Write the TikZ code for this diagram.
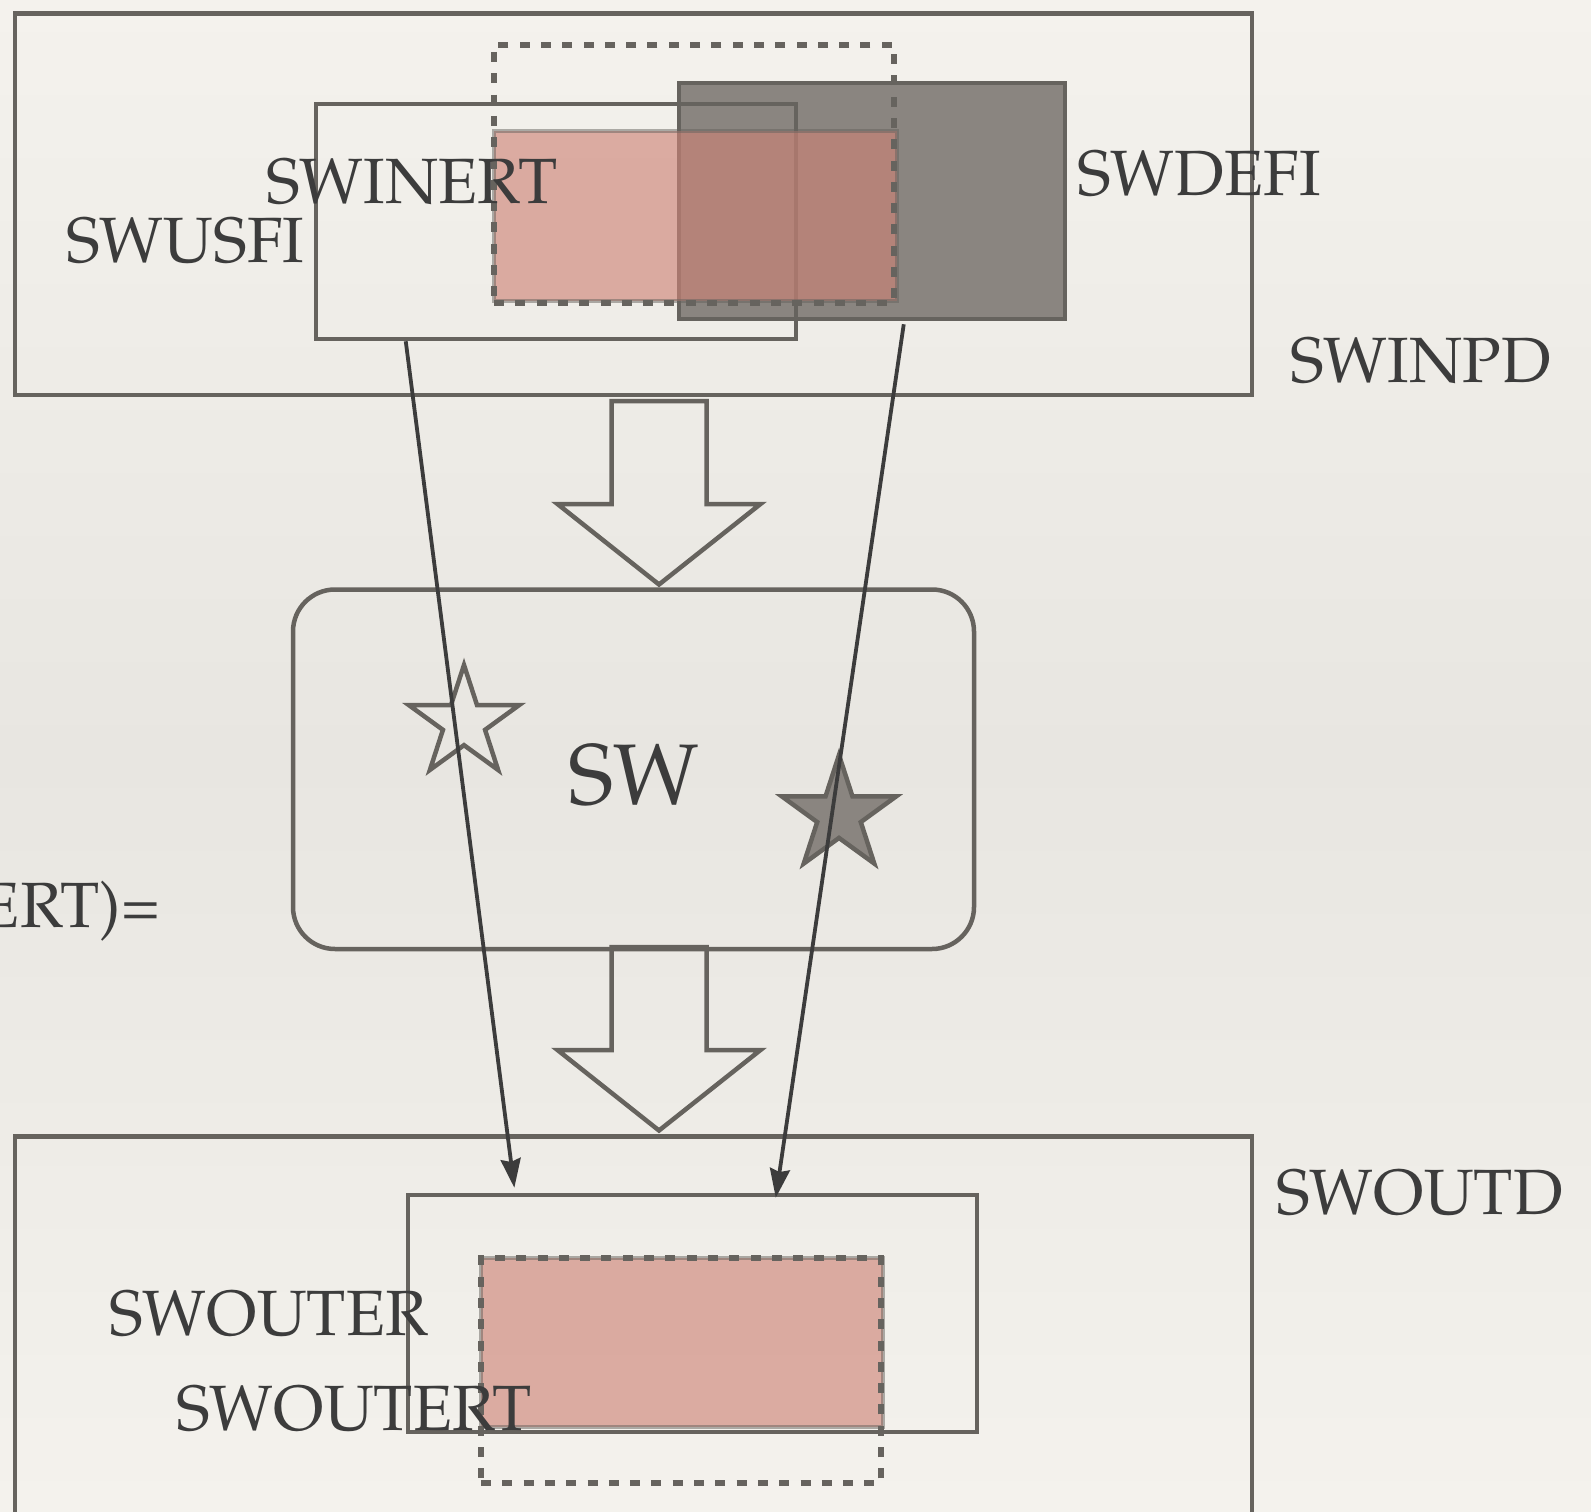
\documentclass[tikz,border=0pt]{standalone}
\usepackage[T1]{fontenc}
\renewcommand{\rmdefault}{ppl}
\usetikzlibrary{shapes.geometric,arrows.meta,calc}

\definecolor{paperA}{HTML}{F4F2ED}
\definecolor{paperB}{HTML}{E8E6E1}
\definecolor{edge}{HTML}{66635E}
\definecolor{ink}{HTML}{3C3C3C}
\definecolor{slate}{HTML}{8A8580}
\definecolor{rose}{HTML}{CE8376}

\tikzset{
  panel/.style={rectangle, draw=edge, line width=4.5pt, inner sep=0pt},
  greybox/.style={panel, fill=slate},
  rosebox/.style={rectangle, inner sep=0pt, fill=rose, fill opacity=0.63,
                  draw=edge, draw opacity=0.5, line width=4.5pt},
  dashbox/.style={rectangle, inner sep=0pt, draw=edge, line width=5.5pt,
                  dash pattern=on 10pt off 11.3pt},
  roundpanel/.style={panel, rounded corners=42pt},
  lbl/.style={text=ink, inner sep=0pt, font=\fontsize{64}{70}\selectfont},
  biglbl/.style={text=ink, inner sep=0pt, font=\fontsize{86}{94}\selectfont},
  starshape/.style={star, star points=5, star point ratio=2.618, inner sep=0pt,
                    draw=edge, line width=4.5pt},
  conn/.style={draw=ink, line width=3.8pt,
               -{Stealth[length=29pt, width=20pt, inset=3pt]}},
  blockdown/.pic={
    \draw[edge, line width=4.5pt, line join=miter]
      (-47.5,0) -- (-47.5,103) -- (-101.5,103) -- (0,183.5)
      -- (101.5,103) -- (47.5,103) -- (47.5,0) -- cycle;
  }
}

\begin{document}
\begin{tikzpicture}[x=1pt, y=-1pt]
  % paper
  \shade[top color=paperA, bottom color=paperA, middle color=paperB]
    (0,0) rectangle (1591,1512);
  \useasboundingbox (0,0) rectangle (1591,1512);

  % input domain
  \node[panel, minimum width=1237pt, minimum height=381.5pt] (inpd) at (633.5,204.25) {};
  \node[greybox, minimum width=386pt, minimum height=236pt] (defi) at (872,201) {};
  \node[panel, minimum width=480pt, minimum height=235pt] (usfi) at (556,221.5) {};
  \node[rosebox, minimum width=403pt, minimum height=170pt] (inert) at (695.5,216) {};
  \node[dashbox, minimum width=400pt, minimum height=258pt] (inext) at (694,174) {};

  % software block
  \node[roundpanel, minimum width=681pt, minimum height=359.5pt] (sw) at (633.5,769.25) {};
  \node[starshape, minimum size=116pt] (st1) at (464,723) {};
  \node[starshape, fill=slate, minimum size=120pt] (st2) at (839,815) {};

  % output domain
  \node[panel, minimum width=1237pt, minimum height=423pt] (outd) at (633.5,1348) {};
  \node[panel, minimum width=569pt, minimum height=237pt] (outer) at (692.5,1313.5) {};
  \node[rosebox, minimum width=402pt, minimum height=169pt] (outert) at (682,1342.5) {};
  \node[dashbox, minimum width=400pt, minimum height=225pt] (outext) at (681,1370.5) {};

  % flow arrows
  \pic at (659,401) {blockdown};
  \pic at (659,947) {blockdown};

  % labels
  \node[lbl, anchor=base west] (tinert) at (266,203) {SWINERT};
  \node[lbl, anchor=base west] (tusfi) at (66,262) {SWUSFI};
  \node[lbl, anchor=base west] (tdefi) at (1077,195) {SWDEFI};
  \node[lbl, anchor=base west] (tinpd) at (1290,382) {SWINPD};
  \node[biglbl, anchor=base west] (tsw) at (568,804) {SW};
  \node[lbl, anchor=base east] (teq) at (160,927) {ERT)=};
  \node[lbl, anchor=base west] (toutd) at (1276,1214) {SWOUTD};
  \node[lbl, anchor=base west] (touter) at (109,1335) {SWOUTER};
  \node[lbl, anchor=base west] (toutert) at (176,1430) {SWOUTERT};

  % mappings
  \draw[conn] ($(usfi.south west)+(92,0)$) -- ($(outer.north west)+(108.6,-5)$);
  \draw[conn] ($(defi.south west)+(227,3)$) -- ($(outer.north west)+(370,5)$);
\end{tikzpicture}
\end{document}
